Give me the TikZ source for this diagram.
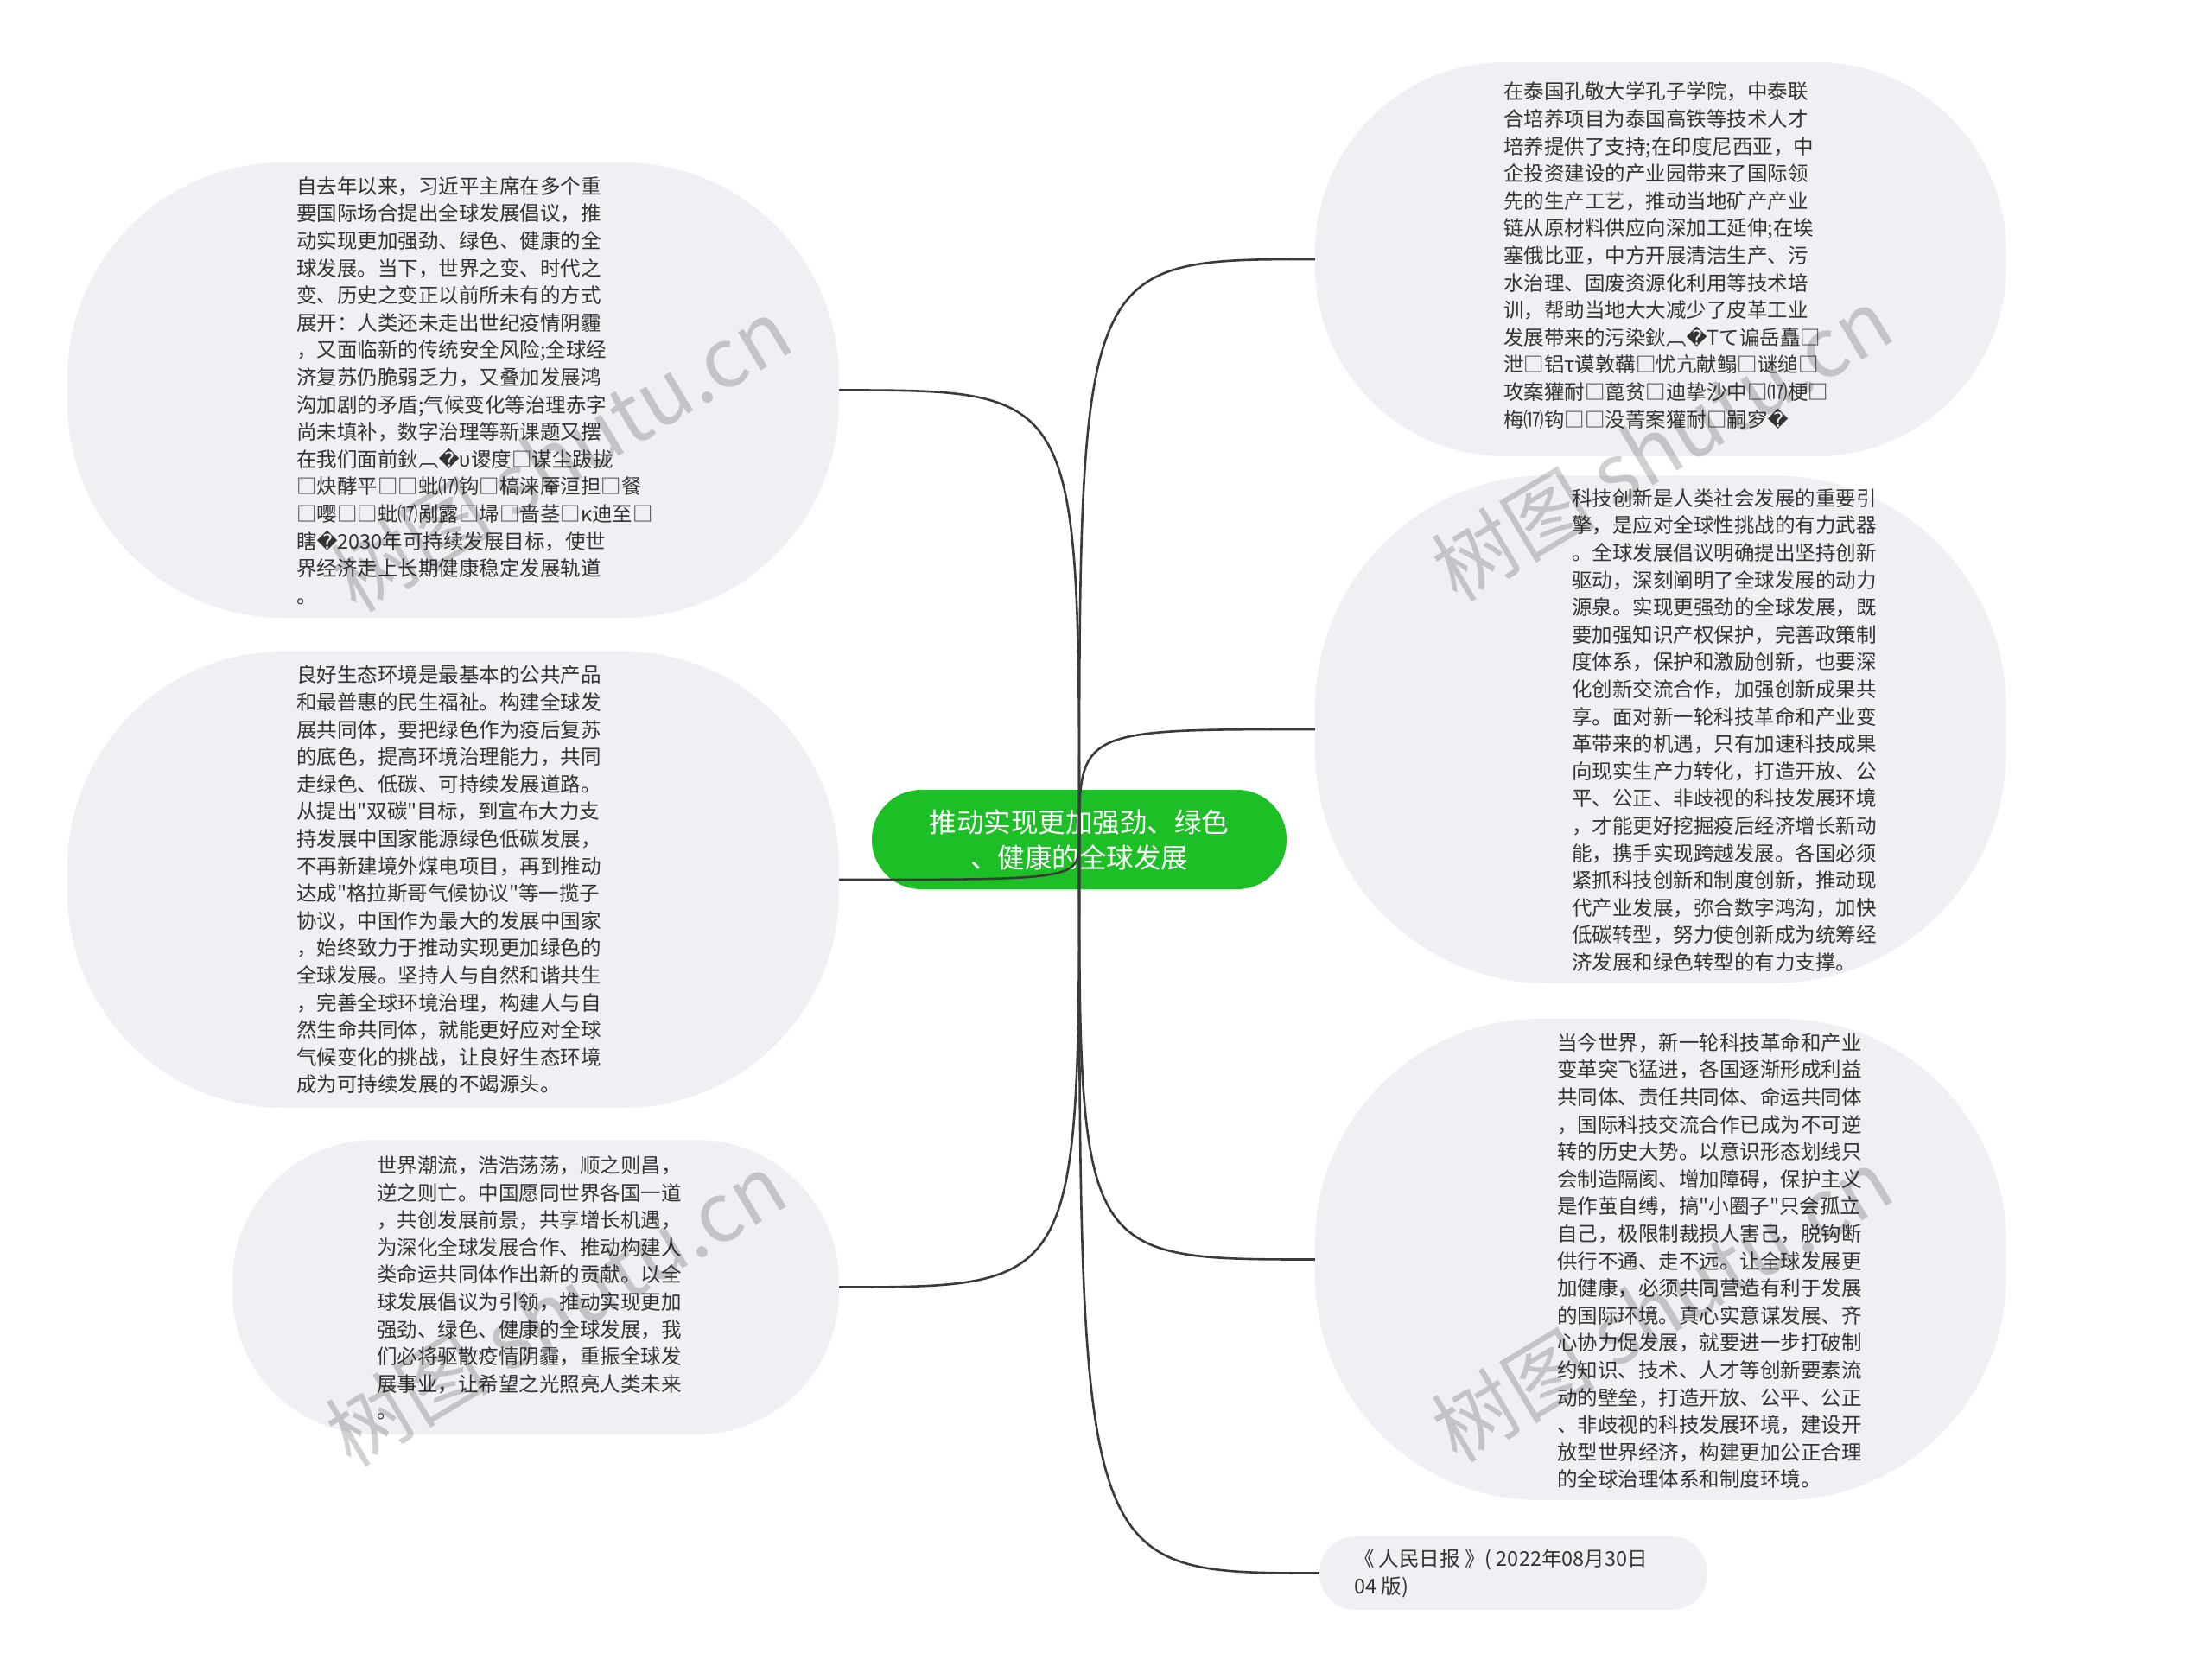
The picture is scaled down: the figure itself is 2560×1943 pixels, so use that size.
\documentclass[tikz,border=0pt]{standalone}
\usepackage{fontspec}
\usepackage{xcolor}
\setmainfont{Noto Sans CJK SC}[Ligatures=TeXOff]
\newfontfamily\symfont{DejaVu Sans}
\newcommand{\bad}{{\symfont ^^^^fffd}}

\definecolor{bubblefill}{HTML}{EEF0F3}
\definecolor{rootgreen}{HTML}{1DBF27}
\definecolor{inkgray}{HTML}{333333}
\definecolor{linkgray}{HTML}{3A3A3A}

\tikzset{
  bubble/.style={fill=bubblefill,draw=none,inner sep=0pt},
  bodytext/.style={inner sep=0pt,align=left,anchor=west,text=inkgray,
    font=\fontsize{23.5}{31.6}\selectfont},
  root/.style={fill=rootgreen,draw=none,text=white,align=center,inner sep=0pt,
    minimum width=480pt,minimum height=115pt,rounded corners=57pt,
    font=\fontsize{31.5}{41}\selectfont},
  link/.style={draw=linkgray,line width=2.6pt},
  wmark/.style={text=black,opacity=0.18,rotate=31,inner sep=0pt,
    font=\fontsize{95}{95}\selectfont}
}

\begin{document}
\begin{tikzpicture}[x=1pt,y=-1pt]
  \fill[white] (0,0) rectangle (2560,1943);
  \useasboundingbox (0,0) rectangle (2560,1943);

  % bubbles
  \node[bubble,minimum width=893pt,minimum height=527pt,rounded corners=250pt] (tl) at (524.5,451.5) {};
  \node[bubble,minimum width=893pt,minimum height=528pt,rounded corners=250pt] (ml) at (524.5,1018) {};
  \node[bubble,minimum width=702pt,minimum height=341pt,rounded corners=165pt] (bl) at (620,1489.5) {};
  \node[bubble,minimum width=800pt,minimum height=456pt,rounded corners=220pt] (tr) at (1922,300) {};
  \node[bubble,minimum width=800pt,minimum height=588pt,rounded corners=270pt] (mr) at (1922,844) {};
  \node[bubble,minimum width=800pt,minimum height=557pt,rounded corners=260pt] (br) at (1922,1457.5) {};
  \node[bubble,minimum width=449pt,minimum height=85pt,rounded corners=42pt] (src) at (1751.5,1820.5) {};

  % texts
  \node[bodytext] (tltxt) at (343,452) {自去年以来，习近平主席在多个重\\要国际场合提出全球发展倡议，推\\动实现更加强劲、绿色、健康的全\\球发展。当下，世界之变、时代之\\变、历史之变正以前所未有的方式\\展开：人类还未走出世纪疫情阴霾\\，又面临新的传统安全风险;全球经\\济复苏仍脆弱乏力，又叠加发展鸿\\沟加剧的矛盾;气候变化等治理赤字\\尚未填补，数字治理等新课题又摆\\在我们面前鈥︹\bad υ谡度□谋尘跋拢\\□炔酵平□□蚍⒄钩□槁涞厣洹担□餐\\□嘤□□蚍⒄剐露□埽□啬茎□κ迪至□\\瞎\bad 2030年可持续发展目标，使世\\界经济走上长期健康稳定发展轨道\\。};
  \node[bodytext] (mltxt) at (343,1018) {良好生态环境是最基本的公共产品\\和最普惠的民生福祉。构建全球发\\展共同体，要把绿色作为疫后复苏\\的底色，提高环境治理能力，共同\\走绿色、低碳、可持续发展道路。\\从提出"双碳"目标，到宣布大力支\\持发展中国家能源绿色低碳发展，\\不再新建境外煤电项目，再到推动\\达成"格拉斯哥气候协议"等一揽子\\协议，中国作为最大的发展中国家\\，始终致力于推动实现更加绿色的\\全球发展。坚持人与自然和谐共生\\，完善全球环境治理，构建人与自\\然生命共同体，就能更好应对全球\\气候变化的挑战，让良好生态环境\\成为可持续发展的不竭源头。};
  \node[bodytext] (bltxt) at (436,1490.5) {世界潮流，浩浩荡荡，顺之则昌，\\逆之则亡。中国愿同世界各国一道\\，共创发展前景，共享增长机遇，\\为深化全球发展合作、推动构建人\\类命运共同体作出新的贡献。以全\\球发展倡议为引领，推动实现更加\\强劲、绿色、健康的全球发展，我\\们必将驱散疫情阴霾，重振全球发\\展事业，让希望之光照亮人类未来\\。};
  \node[bodytext] (trtxt) at (1740,295.5) {在泰国孔敬大学孔子学院，中泰联\\合培养项目为泰国高铁等技术人才\\培养提供了支持;在印度尼西亚，中\\企投资建设的产业园带来了国际领\\先的生产工艺，推动当地矿产产业\\链从原材料供应向深加工延伸;在埃\\塞俄比亚，中方开展清洁生产、污\\水治理、固废资源化利用等技术培\\训，帮助当地大大减少了皮革工业\\发展带来的污染鈥︹\bad Tて谝岳矗□\\泄□铝τ谟敦鞲□忧亢献鳎□谜缒□\\攻案獾耐□蓖贫□迪挚沙中□⒄梗□\\梅⒄钩□□没菁案獾耐□嗣穸\bad};
  \node[bodytext] (mrtxt) at (1819,845) {科技创新是人类社会发展的重要引\\擎，是应对全球性挑战的有力武器\\。全球发展倡议明确提出坚持创新\\驱动，深刻阐明了全球发展的动力\\源泉。实现更强劲的全球发展，既\\要加强知识产权保护，完善政策制\\度体系，保护和激励创新，也要深\\化创新交流合作，加强创新成果共\\享。面对新一轮科技革命和产业变\\革带来的机遇，只有加速科技成果\\向现实生产力转化，打造开放、公\\平、公正、非歧视的科技发展环境\\，才能更好挖掘疫后经济增长新动\\能，携手实现跨越发展。各国必须\\紧抓科技创新和制度创新，推动现\\代产业发展，弥合数字鸿沟，加快\\低碳转型，努力使创新成为统筹经\\济发展和绿色转型的有力支撑。};
  \node[bodytext] (brtxt) at (1802,1459) {当今世界，新一轮科技革命和产业\\变革突飞猛进，各国逐渐形成利益\\共同体、责任共同体、命运共同体\\，国际科技交流合作已成为不可逆\\转的历史大势。以意识形态划线只\\会制造隔阂、增加障碍，保护主义\\是作茧自缚，搞"小圈子"只会孤立\\自己，极限制裁损人害己，脱钩断\\供行不通、走不远。让全球发展更\\加健康，必须共同营造有利于发展\\的国际环境。真心实意谋发展、齐\\心协力促发展，就要进一步打破制\\约知识、技术、人才等创新要素流\\动的壁垒，打造开放、公平、公正\\、非歧视的科技发展环境，建设开\\放型世界经济，构建更加公正合理\\的全球治理体系和制度环境。};
  \node[bodytext] (srctxt) at (1567,1821) {《 人民日报 》( 2022年08月30日\\04 版)};

  % centre topic
  \node[root] (root) at (1249,971.5) {推动实现更加强劲、绿色\\、健康的全球发展};

  % connectors
  \foreach \n in {tl,ml,bl} {
    \draw[link] (root.center) .. controls (root.center |- \n.east) .. (\n.east);
  }
  \foreach \n in {tr,mr,br,src} {
    \draw[link] (root.center) .. controls (root.center |- \n.west) .. (\n.west);
  }

  % watermarks
  \node[wmark] (wm1) at (649,526) {树图 shutu.cn};
  \node[wmark] (wm2) at (1923,514) {树图 shutu.cn};
  \node[wmark] (wm3) at (643,1515) {树图 shutu.cn};
  \node[wmark] (wm4) at (1923,1510) {树图 shutu.cn};
\end{tikzpicture}
\end{document}
